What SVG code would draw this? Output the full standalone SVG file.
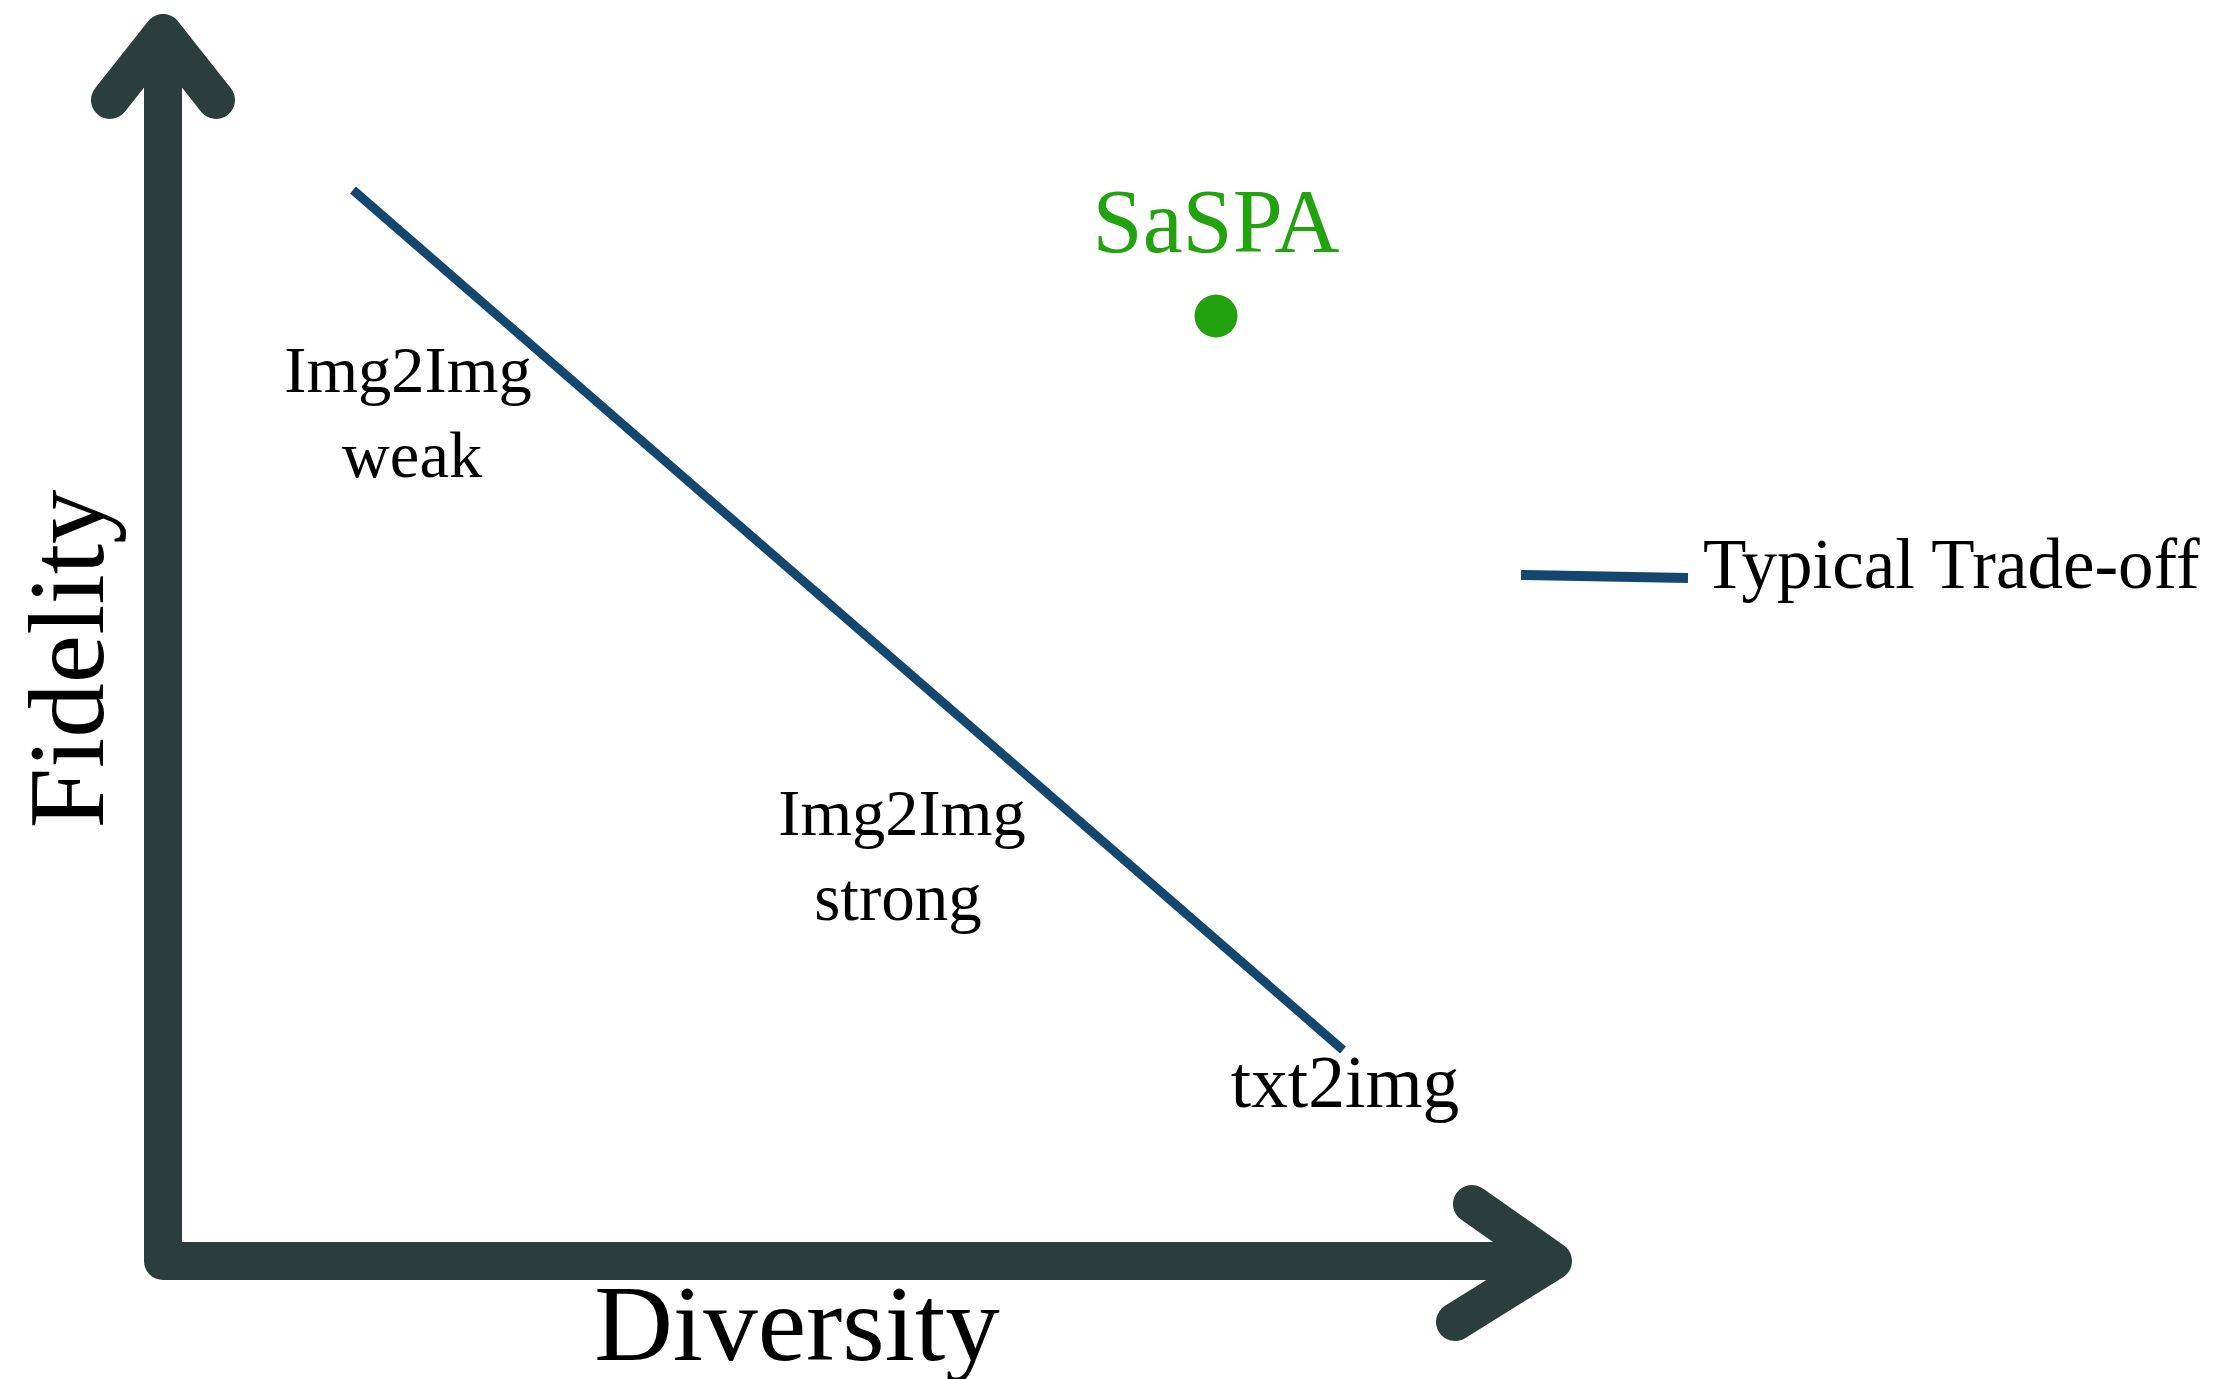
<svg xmlns="http://www.w3.org/2000/svg" width="2216" height="1379" viewBox="0 0 2216 1379">
<style>
.axis{fill:none;stroke:#2b3e3c;stroke-width:38;stroke-linecap:round;stroke-linejoin:round}
.trade{fill:none;stroke:#14476f;stroke-width:9}
.t{font-family:"Liberation Serif","Times New Roman",serif;fill:#000;text-anchor:middle}
</style>
<rect width="2216" height="1379" fill="#fff"/>
<g id="connectors">
<path id="axes" class="axis" d="M110,100 L163,33 L216,100 M163,33 L163,1261 L1553,1261 M1472,1204 L1553,1261 L1455,1322"/>
<line id="tradeoff-line" class="trade" x1="353" y1="190" x2="1343" y2="1050"/>
</g>
<g id="fidelity-label"><text class="t" font-size="109" transform="translate(103,659) rotate(-90)">Fidelity</text></g>
<g id="diversity-label"><text class="t" font-size="109" x="797" y="1360">Diversity</text></g>
<g id="saspa"><text class="t" font-size="90" x="1216" y="252" style="fill:#23a20f">SaSPA</text><circle cx="1216" cy="316" r="21.5" fill="#23a20f"/></g>
<g id="img2img-weak"><text class="t" font-size="66.5" x="408" y="392">Img2Img</text><text class="t" font-size="66.5" x="412" y="477">weak</text></g>
<g id="img2img-strong"><text class="t" font-size="66.5" x="902" y="835">Img2Img</text><text class="t" font-size="67" x="898" y="920">strong</text></g>
<g id="txt2img"><text class="t" font-size="73.5" x="1345" y="1107">txt2img</text></g>
<g id="legend"><line class="trade" x1="1521" y1="575" x2="1688" y2="578" style="stroke-width:10"/><text class="t" font-size="71" x="1703" y="588" style="text-anchor:start">Typical Trade-off</text></g>
</svg>
